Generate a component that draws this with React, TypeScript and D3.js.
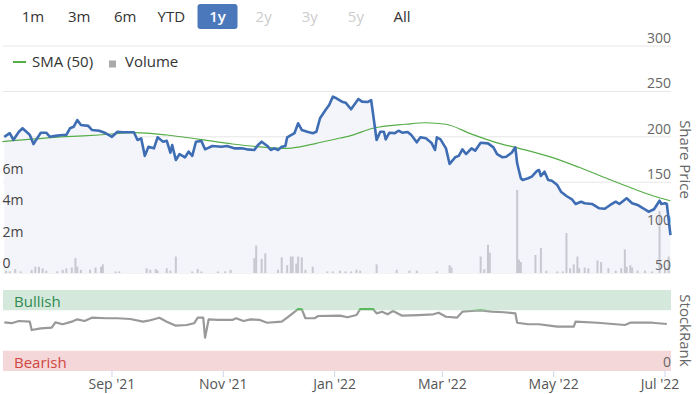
import React from "react";
import * as d3 from "d3";

const W = 700;
const H = 394;
const FONT = "'Open Sans', 'DejaVu Sans', sans-serif";

const rangeButtons = ["1m", "3m", "6m", "YTD", "1y", "2y", "3y", "5y", "All"];
const activeButton = "1y";
const disabledButtons = ["2y", "3y", "5y"];

const priceDates = [
  "2021-07-04","2021-07-07","2021-07-09","2021-07-12","2021-07-14","2021-07-17","2021-07-18","2021-07-20","2021-07-22","2021-07-24",
  "2021-07-27","2021-07-29","2021-08-01","2021-08-05","2021-08-07","2021-08-09","2021-08-11","2021-08-13","2021-08-15","2021-08-19",
  "2021-08-21","2021-08-25","2021-08-28","2021-09-01","2021-09-04","2021-09-07","2021-09-13","2021-09-15","2021-09-17","2021-09-19",
  "2021-09-21","2021-09-24","2021-09-26","2021-09-29","2021-10-01","2021-10-03","2021-10-04","2021-10-06","2021-10-08","2021-10-11",
  "2021-10-13","2021-10-15","2021-10-17","2021-10-20","2021-10-22","2021-10-26","2021-10-31","2021-11-03","2021-11-07","2021-11-11",
  "2021-11-14","2021-11-18","2021-11-20","2021-11-22","2021-11-25","2021-11-27","2021-11-29","2021-12-01","2021-12-03","2021-12-05",
  "2021-12-06","2021-12-10","2021-12-12","2021-12-14","2021-12-17","2021-12-20","2021-12-22","2021-12-24","2021-12-27","2021-12-29",
  "2021-12-31","2022-01-02","2022-01-05","2022-01-07","2022-01-10","2022-01-14","2022-01-16","2022-01-19","2022-01-21","2022-01-22",
  "2022-01-24","2022-01-26","2022-01-28","2022-01-29","2022-01-31","2022-02-03","2022-02-05","2022-02-07","2022-02-10","2022-02-12",
  "2022-02-15","2022-02-17","2022-02-20","2022-02-23","2022-02-25","2022-02-26","2022-02-28","2022-03-03","2022-03-05","2022-03-08",
  "2022-03-10","2022-03-12","2022-03-14","2022-03-17","2022-03-19","2022-03-22","2022-03-26","2022-03-29","2022-03-31","2022-04-03",
  "2022-04-05","2022-04-08","2022-04-10","2022-04-11","2022-04-13","2022-04-14","2022-04-17","2022-04-19","2022-04-22","2022-04-23",
  "2022-04-24","2022-04-26","2022-04-28","2022-04-30","2022-05-03","2022-05-05","2022-05-08","2022-05-11","2022-05-13","2022-05-16",
  "2022-05-18","2022-05-22","2022-05-26","2022-05-29","2022-06-01","2022-06-04","2022-06-06","2022-06-10","2022-06-13","2022-06-16",
  "2022-06-19","2022-06-22","2022-06-25","2022-06-28","2022-06-29","2022-07-01","2022-07-02","2022-07-04",
];
const priceValues = [
  200, 204, 196.5, 205.6, 209.4, 204, 202, 192, 198.3, 204.5,
  204.5, 200, 201, 202, 202, 209.4, 211, 218.5, 213, 212,
  207.5, 206.7, 204.5, 200, 205.6, 205, 205, 196.5, 198.3, 179,
  189, 187.3, 199.4, 194.6, 195.7, 182.5, 191, 174.4, 181, 177.4,
  183.6, 179, 194.6, 195.4, 186.2, 189.9, 189, 189.9, 187.3, 187.3,
  186.2, 185.5, 191, 194.6, 190.2, 185.5, 187.3, 185.5, 189, 189.9,
  199.4, 204, 214.9, 207.5, 205.6, 204, 205.6, 220.4, 229.5, 235,
  244.2, 242.4, 238.7, 237.6, 230.3, 241.6, 238.7, 238.3, 240.5, 225.9,
  196.5, 205.6, 205.6, 197.2, 204.5, 204, 206.7, 204.5, 205.3, 202,
  193.9, 199.4, 198.3, 193.5, 185.5, 199.4, 197.2, 187.3, 170, 177.4,
  179, 186.2, 181, 187.3, 184.7, 193.5, 192.8, 188.4, 181, 177.4,
  178.1, 182.5, 188.4, 170.8, 154.3, 152.4, 154.3, 156.1, 162.7, 163.4,
  156.8, 161.6, 152.4, 151.6, 146.9, 139.5, 134.8, 131.2, 126, 128.5,
  126.8, 126, 121.3, 120.8, 124.9, 128.5, 126, 132.3, 126.8, 124.9,
  121.3, 117.5, 120.2, 129.6, 126, 126.8, 126, 91.8,
];

const smaDates = [
  "2021-07-03","2021-08-07","2021-08-25","2021-09-13","2021-10-01","2021-10-19","2021-11-06","2021-11-24","2021-12-06","2021-12-13",
  "2021-12-22","2022-01-04","2022-01-09","2022-01-22","2022-02-09","2022-02-20","2022-03-03","2022-03-17","2022-04-01","2022-04-12",
  "2022-04-30","2022-05-15","2022-05-30","2022-06-13","2022-06-27","2022-07-04",
];
const smaValues = [
  194.6, 200.1, 202, 204.5, 202, 197.2, 192.1, 188.4, 187.3, 189,
  192.8, 198.7, 200.8, 209.4, 213.8, 215.5, 213.8, 203, 192.8, 187.3,
  177.4, 166.4, 154.3, 143.3, 133.4, 129.6,
];

const volumeDates = [
  "2021-07-05","2021-07-07","2021-07-10","2021-07-13","2021-07-19","2021-07-21","2021-07-23","2021-07-25","2021-07-27","2021-08-02",
  "2021-08-05","2021-08-07","2021-08-10","2021-08-12","2021-08-13","2021-08-15","2021-08-20","2021-08-23","2021-08-26","2021-08-27",
  "2021-09-03","2021-09-05","2021-09-20","2021-09-22","2021-09-25","2021-09-26","2021-10-01","2021-10-03","2021-10-06","2021-10-15",
  "2021-10-18","2021-10-20","2021-10-29","2021-11-02","2021-11-05","2021-11-18","2021-11-19","2021-11-22","2021-11-24","2021-12-01",
  "2021-12-03","2021-12-06","2021-12-08","2021-12-09","2021-12-11","2021-12-12","2021-12-14","2021-12-16","2021-12-20","2021-12-28",
  "2021-12-31","2022-01-04","2022-01-07","2022-01-10","2022-01-13","2022-01-15","2022-01-24","2022-02-04","2022-02-11","2022-02-15",
  "2022-02-26","2022-03-05","2022-03-06","2022-03-22","2022-03-24","2022-03-26","2022-03-27","2022-04-11","2022-04-12","2022-04-13",
  "2022-04-21","2022-04-24","2022-04-27","2022-05-03","2022-05-06","2022-05-08","2022-05-10","2022-05-12","2022-05-14","2022-05-15",
  "2022-05-18","2022-05-20","2022-05-25","2022-05-27","2022-05-31","2022-06-04","2022-06-07","2022-06-09","2022-06-10","2022-06-12",
  "2022-06-13","2022-06-16","2022-06-20","2022-06-24","2022-06-28","2022-07-01","2022-07-03",
];
const volumeValues = [
  0.15, 0.1, 0.25, 0.1, 0.2, 0.4, 0.4, 0.3, 0.15, 0.1,
  0.2, 0.3, 0.35, 0.95, 0.4, 0.2, 0.2, 0.35, 0.4, 0.55,
  0.1, 0.1, 0.3, 0.2, 0.25, 0.15, 0.3, 0.15, 1.05, 0.1,
  0.25, 0.1, 0.1, 0.1, 0.2, 0.95, 1.75, 0.9, 1.25, 0.2,
  1.0, 0.5, 1.05, 1.05, 0.6, 1.05, 1.0, 0.2, 0.4, 0.1,
  0.1, 0.15, 0.1, 0.1, 0.2, 0.15, 0.55, 0.2, 0.15, 0.15,
  0.1, 0.5, 0.35, 1.05, 0.25, 1.8, 1.3, 5.3, 0.85, 0.7,
  1.15, 1.6, 0.15, 0.1, 0.1, 2.55, 0.3, 0.55, 1.05, 0.3,
  0.35, 0.3, 0.8, 0.7, 0.3, 0.15, 0.3, 1.5, 0.4, 0.5,
  0.35, 0.15, 0.15, 0.1, 3.95, 0.3, 1.05,
];

const rankDates = [
  "2021-07-04","2021-07-08","2021-07-12","2021-07-18","2021-07-19","2021-07-24","2021-07-30","2021-08-01","2021-08-05","2021-08-10",
  "2021-08-13","2021-08-17","2021-08-21","2021-08-29","2021-09-04","2021-09-11","2021-09-18","2021-09-21","2021-09-27","2021-10-01",
  "2021-10-06","2021-10-12","2021-10-16","2021-10-18","2021-10-21","2021-10-22","2021-10-24","2021-10-29","2021-11-06","2021-11-08",
  "2021-11-12","2021-11-16","2021-11-21","2021-11-25","2021-12-03","2021-12-06","2021-12-09","2021-12-12","2021-12-14","2021-12-16",
  "2021-12-21","2021-12-23","2022-01-04","2022-01-08","2022-01-13","2022-01-15","2022-01-22","2022-01-24","2022-01-27","2022-01-30",
  "2022-02-02","2022-02-07","2022-02-16","2022-02-24","2022-02-27","2022-03-03","2022-03-09","2022-03-12","2022-03-17","2022-03-22",
  "2022-03-28","2022-04-04","2022-04-10","2022-04-11","2022-04-17","2022-04-23","2022-05-03","2022-05-12","2022-05-13","2022-05-25",
  "2022-06-09","2022-06-12","2022-06-24","2022-07-02",
];
const rankValues = [
  60, 59, 61.7, 60.9, 50.6, 52.7, 53.5, 60.1, 57.7, 60.9,
  63.8, 61.7, 65.8, 65.1, 65.1, 64.2, 60.9, 62.1, 65.8, 60.9,
  55.9, 56.8, 58.9, 65.8, 65.8, 41.1, 63.8, 63, 63, 65.1,
  61.7, 63.8, 63, 59.6, 60.9, 65.8, 71.2, 76.5, 76.2, 65.1,
  65.1, 67.9, 68.3, 66.3, 69.1, 76.5, 76.5, 71.2, 73.2, 70,
  74.1, 68.3, 69.1, 70, 72, 67, 65.8, 73.2, 74.1, 74.8,
  73.2, 72.5, 71.2, 59.6, 57.7, 57.7, 54.7, 54.7, 60.9, 59.6,
  56.8, 59.6, 59.6, 58,
];

const priceTicks = [50, 100, 150, 200, 250, 300];
const volumeTicks = [0, 2, 4, 6];
const volumeTickLabels = ["0", "2m", "4m", "6m"];
const dateTicks = ["2021-09-01", "2021-11-01", "2022-01-01", "2022-03-01", "2022-05-01", "2022-07-01"];
const dateTickLabels = ["Sep '21", "Nov '21", "Jan '22", "Mar '22", "May '22", "Jul '22"];
const bullishRange = [75, 100];
const bearishRange = [0, 25];

type Pt = { t: Date; v: number };

export default function App() {
  const parse = d3.utcParse("%Y-%m-%d");
  const toPts = (ds: string[], vs: number[]): Pt[] => ds.map((d, i) => ({ t: parse(d) as Date, v: vs[i] }));
  const price = toPts(priceDates, priceValues);
  const sma = toPts(smaDates, smaValues);
  const volume = toPts(volumeDates, volumeValues);
  const rank = toPts(rankDates, rankValues);

  const plotL = 3;
  const plotR = 671;
  const x = d3
    .scaleUtc()
    .domain([parse("2021-07-01") as Date, parse("2022-07-01") as Date])
    .range([-1.2, 665]);
  const yP = d3.scaleLinear().domain([50, 300]).range([273, 46]);
  const yV = d3.scaleLinear().domain([0, 6]).range([273, 179]);
  const yR = d3.scaleLinear().domain([0, 100]).range([371, 290]);
  const btnX = d3.scalePoint<string>().domain(rangeButtons).range([33, 402]);

  const priceLine = d3.line<Pt>().x((d) => x(d.t)).y((d) => yP(d.v));
  const priceArea = d3
    .area<Pt>()
    .x((d) => x(d.t))
    .y0(yP(50))
    .y1((d) => yP(d.v));
  const smaLine = d3
    .line<Pt>()
    .curve(d3.curveMonotoneX)
    .x((d) => x(d.t))
    .y((d) => yP(d.v));
  const rankLine = d3.line<Pt>().x((d) => x(d.t)).y((d) => yR(d.v));

  const thresholdY = yR(bullishRange[0]);

  return (
    <svg
      width={W}
      height={H}
      viewBox={`0 0 ${W} ${H}`}
      style={{ position: "absolute", left: 0, top: 0, display: "block", background: "#fff" }}
      fontFamily={FONT}
    >
      <defs>
        <clipPath id="rank-above">
          <rect x={0} y={0} width={W} height={thresholdY} />
        </clipPath>
        <clipPath id="rank-below">
          <rect x={0} y={thresholdY} width={W} height={H - thresholdY} />
        </clipPath>
      </defs>

      {/* range selector */}
      {rangeButtons.map((b) => {
        const cx = btnX(b) as number;
        const active = b === activeButton;
        const disabled = disabledButtons.includes(b);
        return (
          <g key={b}>
            {active && <rect x={cx - 20} y={4} width={40} height={25} rx={3} fill="#4a78bb" />}
            <text
              x={cx}
              y={22}
              textAnchor="middle"
              fontSize={15}
              fill={active ? "#ffffff" : disabled ? "#cccccc" : "#333333"}
              fontWeight={active ? 600 : 400}
            >
              {b}
            </text>
          </g>
        );
      })}

      {/* price gridlines */}
      {priceTicks.map((t) => (
        <line key={t} x1={plotL} x2={plotR} y1={yP(t)} y2={yP(t)} stroke="#e6e6e6" strokeWidth={1} />
      ))}

      {/* area under price */}
      <path d={priceArea(price) as string} fill="#f4f5fa" />

      {/* volume bars */}
      {volume.map((d, i) => (
        <rect
          key={i}
          x={x(d.t) - 1}
          y={yV(d.v)}
          width={2}
          height={yV(0) - yV(d.v)}
          fill="#c7c8d0"
        />
      ))}

      {/* price axis labels */}
      {priceTicks.map((t) => (
        <text key={t} x={plotR} y={yP(t) - 3} textAnchor="end" fontSize={14} fill="#666666">
          {t}
        </text>
      ))}

      {/* volume axis labels */}
      {volumeTicks.map((t, i) => (
        <text key={t} x={2.5} y={yV(t) - 5} fontSize={14} fill="#444444">
          {volumeTickLabels[i]}
        </text>
      ))}

      {/* SMA line */}
      <path d={smaLine(sma) as string} fill="none" stroke="#55ad47" strokeWidth={1.2} />

      {/* price line */}
      <path
        d={priceLine(price) as string}
        fill="none"
        stroke="#3e6db4"
        strokeWidth={2.6}
        strokeLinejoin="round"
      />

      {/* legend */}
      <line x1={13} x2={26} y1={62} y2={62} stroke="#55ad47" strokeWidth={2} />
      <text x={32} y={67} fontSize={15} fill="#333333">
        SMA (50)
      </text>
      <rect x={109} y={60.5} width={7} height={7} fill="#aaaaaa" />
      <text x={125} y={67} fontSize={15} fill="#333333">
        Volume
      </text>

      {/* Share Price title */}
      <text
        transform={`translate(686, ${(yP(300) + yP(50)) / 2}) rotate(90)`}
        textAnchor="middle"
        dominantBaseline="central"
        fontSize={15}
        fill="#666666"
      >
        Share Price
      </text>

      {/* StockRank panel */}
      <rect
        x={plotL}
        y={yR(bullishRange[1])}
        width={plotR - plotL}
        height={yR(bullishRange[0]) - yR(bullishRange[1])}
        fill="#d4e9dc"
      />
      <rect
        x={plotL}
        y={yR(bearishRange[1])}
        width={plotR - plotL}
        height={yR(bearishRange[0]) - yR(bearishRange[1])}
        fill="#f4d7d9"
      />
      <text x={14} y={yR(bullishRange[0]) - 3} fontSize={15} fill="#2f8a4f">
        Bullish
      </text>
      <text x={14} y={yR(bearishRange[0]) - 3} fontSize={15} fill="#d0463f">
        Bearish
      </text>
      <text x={plotR} y={yR(0) - 4} textAnchor="end" fontSize={14} fill="#666666">
        0
      </text>
      <path
        d={rankLine(rank) as string}
        fill="none"
        stroke="#999999"
        strokeWidth={2.2}
        strokeLinejoin="round"
        clipPath="url(#rank-below)"
      />
      <path
        d={rankLine(rank) as string}
        fill="none"
        stroke="#5cb85c"
        strokeWidth={2.2}
        strokeLinejoin="round"
        clipPath="url(#rank-above)"
      />
      <text
        transform={`translate(686, ${(yR(0) + yR(100)) / 2}) rotate(90)`}
        textAnchor="middle"
        dominantBaseline="central"
        fontSize={15}
        fill="#666666"
      >
        StockRank
      </text>

      {/* x axis */}
      {dateTicks.map((d, i) => {
        const tx = x(parse(d) as Date);
        return (
          <g key={d}>
            <line x1={tx} x2={tx} y1={yR(0)} y2={yR(0) + 6} stroke="#ccd6eb" strokeWidth={1} />
            <text x={Math.min(tx, 660)} y={389} textAnchor="middle" fontSize={14} fill="#555555">
              {dateTickLabels[i]}
            </text>
          </g>
        );
      })}
    </svg>
  );
}
